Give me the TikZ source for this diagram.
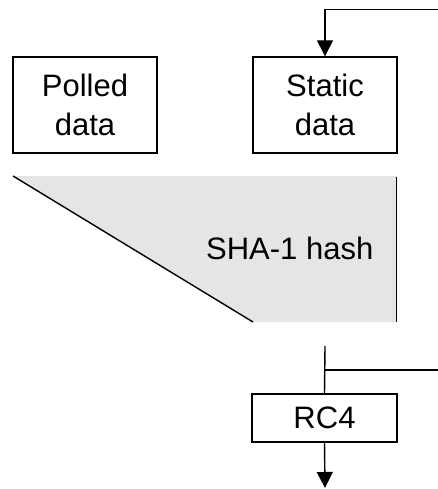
\documentclass[tikz,border=0pt]{standalone}
\usepackage{fontspec}
\setmainfont{Liberation Sans}
\usetikzlibrary{arrows.meta}
\begin{document}
\begin{tikzpicture}[x=1pt,y=-1pt,
  line width=1.4pt,
  box/.style={draw,rectangle,inner sep=0pt,align=center,
    font=\fontsize{31}{39}\selectfont},
  flow/.style={-{Triangle[length=16pt,width=16pt]}}]
\useasboundingbox (0,0) rectangle (438,489);

% input blocks
\node[box,minimum width=144pt,minimum height=96pt] (polled) at (85,105) {Polled\\data};
\node[box,minimum width=144pt,minimum height=96pt] (static) at (325,105) {Static\\data};

% hash stage: shaded trapezoid with slanted left side
\fill[black!10] (13,176) -- (397,176) -- (397,322) -- (253,322) -- cycle;
\draw (13,176) -- (253,322);
\draw (396.5,177) -- (396.5,322);
\node[anchor=east,inner sep=0pt,font=\fontsize{31}{39}\selectfont] (hash) at (374,248) {SHA-1 hash};

% cipher block
\node[box,minimum width=145pt,minimum height=48pt] (rc4) at (324.5,418) {RC4};

% connectors
\coordinate (fbin) at (438,9.5);
\coordinate (hashout) at (325,346);
\coordinate (tap) at (325,370);
\coordinate (tapout) at (438,370);
\coordinate (out) at (325,488);
\draw[flow] (fbin) -| (static.north);
\draw (hashout) -- (rc4.north);
\draw (tap) -- (tapout);
\draw[flow] (rc4.south) -- (out);
\end{tikzpicture}
\end{document}
